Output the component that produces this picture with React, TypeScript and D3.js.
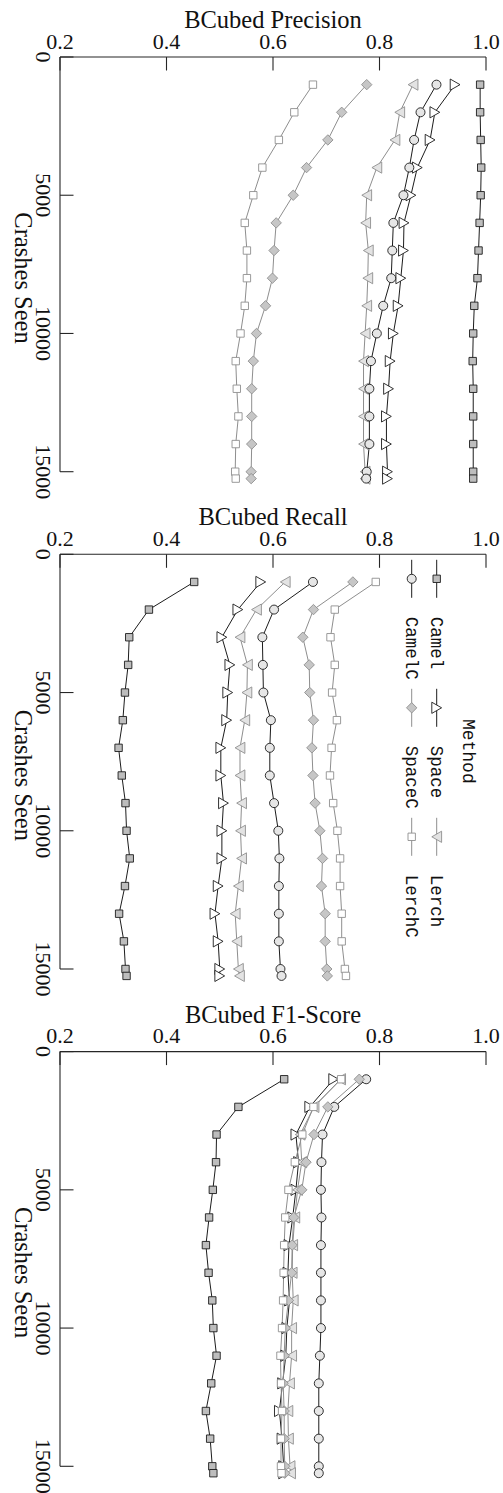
import React from "react";
import * as d3 from "d3";

// Number of crashes seen at each evaluation step
const crashes = [1000, 2000, 3000, 4000, 5000, 6000, 7000, 8000, 9000, 10000, 11000, 12000, 13000, 14000, 15000, 15250];

const methods = ["Camel", "Space", "Lerch", "CamelC", "SpaceC", "LerchC"];

// BCubed precision per method
const precisionCamel = [0.989, 0.989, 0.990, 0.991, 0.990, 0.988, 0.986, 0.984, 0.978, 0.976, 0.975, 0.976, 0.976, 0.976, 0.976, 0.976];
const precisionSpace = [0.942, 0.904, 0.895, 0.871, 0.859, 0.846, 0.845, 0.840, 0.835, 0.826, 0.820, 0.817, 0.813, 0.813, 0.815, 0.815];
const precisionLerch = [0.863, 0.838, 0.829, 0.795, 0.776, 0.774, 0.779, 0.778, 0.776, 0.773, 0.770, 0.770, 0.770, 0.770, 0.773, 0.773];
const precisionCamelC = [0.907, 0.877, 0.865, 0.856, 0.845, 0.826, 0.824, 0.822, 0.807, 0.795, 0.784, 0.781, 0.781, 0.781, 0.776, 0.775];
const precisionSpaceC = [0.776, 0.729, 0.703, 0.663, 0.638, 0.606, 0.602, 0.599, 0.586, 0.569, 0.563, 0.560, 0.560, 0.560, 0.559, 0.559];
const precisionLerchC = [0.675, 0.640, 0.611, 0.580, 0.563, 0.547, 0.551, 0.551, 0.547, 0.539, 0.530, 0.532, 0.535, 0.530, 0.529, 0.530];

// BCubed recall per method
const recallCamel = [0.452, 0.367, 0.330, 0.328, 0.322, 0.318, 0.310, 0.316, 0.323, 0.325, 0.331, 0.322, 0.311, 0.320, 0.323, 0.325];
const recallSpace = [0.577, 0.534, 0.504, 0.519, 0.515, 0.513, 0.502, 0.502, 0.507, 0.504, 0.504, 0.497, 0.491, 0.497, 0.500, 0.500];
const recallLerch = [0.623, 0.569, 0.538, 0.552, 0.551, 0.547, 0.538, 0.538, 0.541, 0.539, 0.541, 0.535, 0.529, 0.532, 0.535, 0.537];
const recallCamelC = [0.675, 0.602, 0.580, 0.581, 0.582, 0.596, 0.594, 0.594, 0.602, 0.610, 0.612, 0.611, 0.611, 0.611, 0.614, 0.616];
const recallSpaceC = [0.750, 0.676, 0.656, 0.668, 0.669, 0.676, 0.673, 0.675, 0.679, 0.688, 0.693, 0.691, 0.698, 0.698, 0.701, 0.702];
const recallLerchC = [0.793, 0.716, 0.708, 0.716, 0.711, 0.720, 0.710, 0.707, 0.713, 0.721, 0.726, 0.726, 0.729, 0.729, 0.735, 0.737];

// BCubed F1-score per method
const f1Camel = [0.621, 0.535, 0.494, 0.493, 0.487, 0.480, 0.474, 0.479, 0.486, 0.488, 0.494, 0.484, 0.474, 0.482, 0.486, 0.488];
const f1Space = [0.714, 0.669, 0.643, 0.648, 0.643, 0.637, 0.630, 0.628, 0.631, 0.626, 0.624, 0.618, 0.612, 0.617, 0.620, 0.620];
const f1Lerch = [0.727, 0.677, 0.651, 0.654, 0.646, 0.641, 0.637, 0.636, 0.638, 0.635, 0.635, 0.631, 0.628, 0.629, 0.632, 0.633];
const f1CamelC = [0.775, 0.715, 0.693, 0.691, 0.690, 0.691, 0.690, 0.690, 0.690, 0.690, 0.688, 0.686, 0.686, 0.686, 0.686, 0.686];
const f1SpaceC = [0.762, 0.703, 0.677, 0.662, 0.654, 0.639, 0.636, 0.635, 0.629, 0.623, 0.621, 0.619, 0.621, 0.621, 0.622, 0.622];
const f1LerchC = [0.728, 0.676, 0.655, 0.641, 0.629, 0.623, 0.621, 0.620, 0.619, 0.617, 0.614, 0.615, 0.617, 0.615, 0.615, 0.616];

const xTicks = [0.2, 0.4, 0.6, 0.8, 1.0];
const xTickLabels = ["0.2", "0.4", "0.6", "0.8", "1.0"];
const yTicks = [0, 5000, 10000, 15000];
const yTickLabels = ["0", "5000", "10000", "15000"];

const panelTitles = ["BCubed Precision", "BCubed Recall", "BCubed F1-Score"];

const panels = [
  { title: panelTitles[0], series: [precisionCamel, precisionSpace, precisionLerch, precisionCamelC, precisionSpaceC, precisionLerchC] },
  { title: panelTitles[1], series: [recallCamel, recallSpace, recallLerch, recallCamelC, recallSpaceC, recallLerchC] },
  { title: panelTitles[2], series: [f1Camel, f1Space, f1Lerch, f1CamelC, f1SpaceC, f1LerchC] },
];

type Shape = "square" | "circle" | "diamond" | "triRight" | "triLeft";
interface Style { shape: Shape; fill: string; stroke: string; line: string }

const DARK = "#1c1c1c";
const GREY = "#8e8e8e";

const styles: Record<string, Style> = {
  Camel: { shape: "square", fill: "#bdbdbd", stroke: DARK, line: DARK },
  Space: { shape: "triRight", fill: "#ffffff", stroke: DARK, line: DARK },
  Lerch: { shape: "triLeft", fill: "#e3e3e3", stroke: GREY, line: GREY },
  CamelC: { shape: "circle", fill: "#e6e6e6", stroke: DARK, line: DARK },
  SpaceC: { shape: "diamond", fill: "#c6c6c6", stroke: GREY, line: GREY },
  LerchC: { shape: "square", fill: "#ffffff", stroke: GREY, line: GREY },
};

// Paths for each marker, centred on the origin
function markerPath(shape: Shape): string {
  switch (shape) {
    case "square": {
      const s = 3.7;
      return `M${-s},${-s}H${s}V${s}H${-s}Z`;
    }
    case "diamond": {
      const d = 5.2;
      return `M0,${-d}L${d},0L0,${d}L${-d},0Z`;
    }
    case "triRight": {
      const h = 4.9, w = 5.6;
      return `M${h},0L${-h},${-w}L${-h},${w}Z`;
    }
    case "triLeft": {
      const h = 4.9, w = 5.6;
      return `M${-h},0L${h},${-w}L${h},${w}Z`;
    }
    default:
      return "";
  }
}

function Marker({ cx, cy, st }: { cx: number; cy: number; st: Style }) {
  if (st.shape === "circle") {
    return <circle cx={cx} cy={cy} r={4.5} fill={st.fill} stroke={st.stroke} strokeWidth={0.9} />;
  }
  return <path d={markerPath(st.shape)} transform={`translate(${cx},${cy})`} fill={st.fill} stroke={st.stroke} strokeWidth={0.9} strokeLinejoin="miter" />;
}

const W = 503;
const H = 1493;
const plotLeft = 60;
const plotRight = 486;
const firstTop = 57;
const panelStep = 497.3;
const plotSpan = 414.7;

const serif = "'Liberation Serif', 'Times New Roman', serif";
const mono = "'Liberation Mono', 'DejaVu Sans Mono', monospace";
const AXIS = "#262626";

function Panel({ idx }: { idx: number }) {
  const p = panels[idx];
  const top = firstTop + idx * panelStep;
  const x = d3.scaleLinear().domain([0.2, 1.0]).range([plotLeft, plotRight]);
  const y = d3.scaleLinear().domain([0, 15000]).range([top, top + plotSpan]);
  const line = d3
    .line<number>()
    .x((v) => x(v))
    .y((_, i) => y(crashes[i]));

  return (
    <g>
      <text x={(plotLeft + plotRight) / 2} y={top - 29} textAnchor="middle" fontFamily={serif} fontSize={24.5} fill="#111">
        {p.title}
      </text>
      {xTicks.map((t, i) => (
        <g key={`xt${i}`}>
          <line x1={x(t)} x2={x(t)} y1={top} y2={top + 13.5} stroke={AXIS} strokeWidth={1.1} />
          <text x={x(t)} y={top - 8.5} textAnchor="middle" fontFamily={serif} fontSize={22} fill="#111">
            {xTickLabels[i]}
          </text>
        </g>
      ))}
      {yTicks.map((t, i) => (
        <g key={`yt${i}`}>
          <line x1={plotLeft} x2={plotLeft + 13.5} y1={y(t)} y2={y(t)} stroke={AXIS} strokeWidth={1.1} />
          <text transform={`translate(${36},${y(t)}) rotate(90)`} textAnchor="middle" fontFamily={serif} fontSize={22} fill="#111">
            {yTickLabels[i]}
          </text>
        </g>
      ))}
      <line x1={plotLeft} x2={plotRight} y1={top} y2={top} stroke={AXIS} strokeWidth={1.1} />
      <line x1={plotLeft} x2={plotLeft} y1={top} y2={y(15000)} stroke={AXIS} strokeWidth={1.1} />
      <text transform={`translate(${15},${top + 221}) rotate(90)`} textAnchor="middle" fontFamily={serif} fontSize={24.5} fill="#111">
        Crashes Seen
      </text>
      {p.series.map((vals, si) => (
        <path key={`l${si}`} d={line(vals) || ""} fill="none" stroke={styles[methods[si]].line} strokeWidth={1} />
      ))}
      {p.series.map((vals, si) => (
        <g key={`m${si}`}>
          {vals.map((v, i) => (
            <Marker key={i} cx={x(v)} cy={y(crashes[i])} st={styles[methods[si]]} />
          ))}
        </g>
      ))}
      {idx === 1 && <Legend top={top} />}
    </g>
  );
}

// Legend drawn turned a quarter-turn, keys running downwards in two columns
function Legend({ top }: { top: number }) {
  const colX = [436.7, 411.7];
  const keyY0 = top + 24.5;
  const keyStep = 129;
  return (
    <g>
      <text transform={`translate(${463},${top + 197}) rotate(90)`} textAnchor="middle" fontFamily={mono} fontSize={18} fill="#111">
        Method
      </text>
      {methods.map((m, i) => {
        const col = i < 3 ? 0 : 1;
        const row = i % 3;
        const kx = colX[col];
        const ky = keyY0 + row * keyStep;
        const st = styles[m];
        return (
          <g key={m}>
            <line x1={kx} x2={kx} y1={ky - 19} y2={ky + 19} stroke={st.line} strokeWidth={1} />
            <Marker cx={kx} cy={ky} st={st} />
            <text transform={`translate(${kx - 6},${ky + 38}) rotate(90)`} textAnchor="start" fontFamily={mono} fontSize={17.5} fill="#111">
              {m}
            </text>
          </g>
        );
      })}
    </g>
  );
}

export default function App() {
  return (
    <div style={{ position: "absolute", left: 0, top: 0 }}>
      <svg width={W} height={H} viewBox={`0 0 ${W} ${H}`} style={{ display: "block", background: "#fff" }}>
        <rect width={W} height={H} fill="#fff" />
        {panels.map((_, i) => (
          <Panel key={i} idx={i} />
        ))}
      </svg>
    </div>
  );
}
